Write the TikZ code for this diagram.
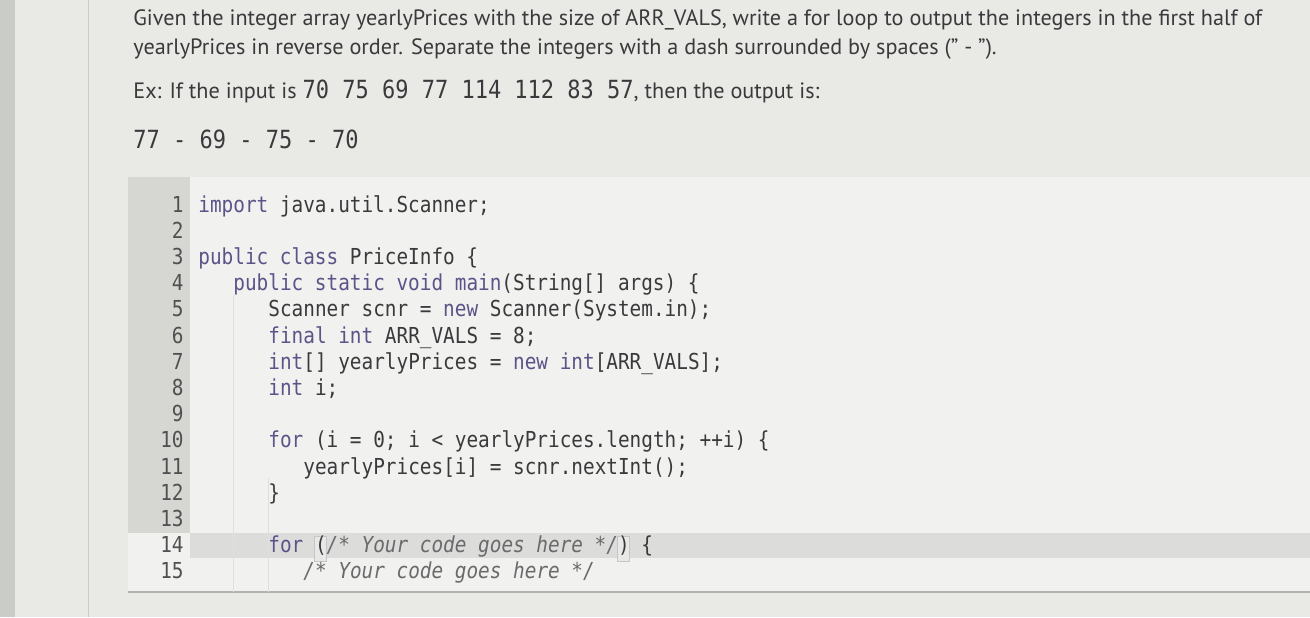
\documentclass[tikz,border=0pt]{standalone}
\usepackage{fontspec}
\setmainfont{PT Sans}
\newfontfamily\codefont[FakeStretch=0.88]{DejaVu Sans Mono}

\definecolor{pagebg}{HTML}{E9E9E6}
\definecolor{edgestrip}{HTML}{C9CCC7}
\definecolor{codebg}{HTML}{F1F1EF}
\definecolor{gutterbg}{HTML}{D6D6D2}
\definecolor{curline}{HTML}{DCDCDA}
\definecolor{ink}{HTML}{3A3A3C}
\definecolor{numink}{HTML}{505052}
\definecolor{keyword}{HTML}{5B5488}
\definecolor{comment}{HTML}{6A6A6C}

\newcommand{\kw}[1]{\textcolor{keyword}{#1}}
\newcommand{\cm}[1]{\textcolor{comment}{\itshape #1}}
\newcommand{\io}[1]{{\codefont\fontsize{12.5}{14}\selectfont #1}}

\begin{document}
\begin{tikzpicture}[x=0.5pt,y=-0.5pt,
    prose/.style={anchor=base west,inner sep=0pt,text=ink,font=\fontsize{11.1}{13}\selectfont},
    code/.style={anchor=base west,inner sep=0pt,text=ink,font=\codefont\fontsize{11}{13}\selectfont},
    lineno/.style={anchor=base east,inner sep=0pt,text=numink,font=\codefont\fontsize{11}{13}\selectfont},
    matchbox/.style={draw=gray!45,fill=gray!18,line width=0.4pt}]
    \useasboundingbox (0,0) rectangle (1310,617);

    % Page
    \fill[pagebg] (0,0) rectangle (1310,617);
    \fill[edgestrip] (0,0) rectangle (15,617);
    \draw[gray!40] (88,0) -- (88,617);

    % Task text
    \node[prose] (t1) at (133,25) {Given the integer array yearlyPrices with the size of ARR\_VALS, write a for loop to output the integers in the first half of};
    \node[prose] (t2) at (133,54) {yearlyPrices in reverse order. Separate the integers with a dash surrounded by spaces (" - ").};
    \node[prose] (t3) at (133,98) {Ex: If the input is \io{70 75 69 77 114 112 83 57}, then the output is:};
    \node[prose] (t4) at (133,148) {\io{77 - 69 - 75 - 70}};

    % Editor
    \fill[codebg] (128,177) rectangle (1310,592);
    \fill[gutterbg] (128,177) rectangle (190,533);
    \fill[curline] (190,533) rectangle (1310,558);
    \draw[gray!60, line width=1pt] (128,592) -- (1310,592);
    \draw[gray!25] (233,295) -- (233,592);
    \draw[gray!25] (268,478) -- (268,592);

    % Bracket match on line 14
    \draw[matchbox] (314,536) rectangle (326,561);
    \draw[matchbox] (617,536) rectangle (629,561);

    % Line numbers
    \foreach \n in {1,...,15}
        \node[lineno] (n\n) at (184,{212+26.2*(\n-1)}) {\n};

    % Code
    \node[code] (c1)  at (198,212.0) {\kw{import} java.util.Scanner;};
    \node[code] (c3)  at (198,264.4) {\kw{public class} PriceInfo \{};
    \node[code] (c4)  at (233,290.6) {\kw{public static void main}(String[] args) \{};
    \node[code] (c5)  at (268,316.8) {Scanner scnr = \kw{new} Scanner(System.in);};
    \node[code] (c6)  at (268,343.0) {\kw{final int} ARR\_VALS = 8;};
    \node[code] (c7)  at (268,369.2) {\kw{int}[] yearlyPrices = \kw{new int}[ARR\_VALS];};
    \node[code] (c8)  at (268,395.4) {\kw{int} i;};
    \node[code] (c10) at (268,447.8) {\kw{for} (i = 0; i < yearlyPrices.length; ++i) \{};
    \node[code] (c11) at (303,474.0) {yearlyPrices[i] = scnr.nextInt();};
    \node[code] (c12) at (268,500.2) {\}};
    \node[code] (c14) at (268,552.6) {\kw{for} (\cm{/* Your code goes here */}) \{};
    \node[code] (c15) at (303,578.8) {\cm{/* Your code goes here */}};
\end{tikzpicture}
\end{document}
